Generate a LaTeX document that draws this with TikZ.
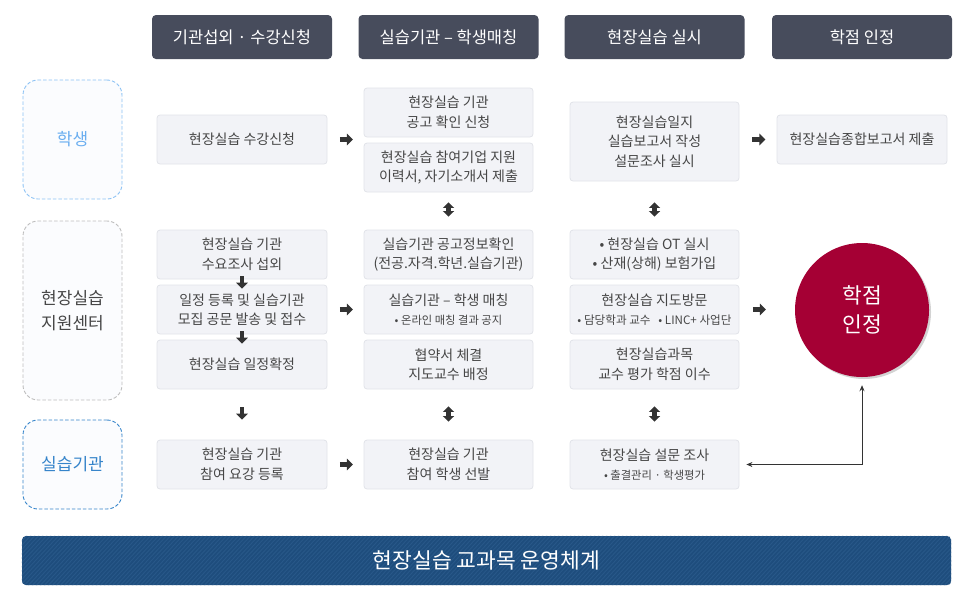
\documentclass[tikz,border=0pt]{standalone}
\usepackage{fontspec}
\setmainfont{Noto Sans CJK KR}
\usetikzlibrary{calc,arrows.meta,shadows}
\definecolor{hdr}{HTML}{474C5C}
\definecolor{boxfill}{HTML}{F2F3F7}
\definecolor{boxline}{HTML}{E1E3E9}
\definecolor{boxtext}{HTML}{464646}
\definecolor{lblblue}{HTML}{8CC2F4}
\definecolor{lbltxtblue}{HTML}{6AAEF0}
\definecolor{lbldark}{HTML}{3584CA}
\definecolor{lblgray}{HTML}{BDBDBD}
\definecolor{lblfill}{HTML}{FBFCFE}
\definecolor{crimson}{HTML}{A50034}
\definecolor{bannerc}{HTML}{1E4D7D}
\definecolor{stripec}{HTML}{285889}
\definecolor{arrowc}{HTML}{333333}
\tikzset{
  hdrbox/.style={fill=hdr, rounded corners=4pt, minimum width=180, minimum height=44, text=white, font=\fontsize{16.5}{19}\selectfont, inner sep=0},
  cbox/.style={fill=boxfill, draw=boxline, line width=0.8pt, rounded corners=3pt, minimum width=170, minimum height=49, text=boxtext, align=center, font=\fontsize{14}{19.5}\selectfont, inner sep=0},
  lbl/.style={fill=lblfill, dash pattern=on 3.5pt off 2pt, line width=0.9pt, rounded corners=15pt, minimum width=99, align=center, font=\fontsize{17}{25}\selectfont, inner sep=0},
  blockR/.style={draw=arrowc, line width=4.5pt, -{Triangle[length=6pt,width=11.5pt]}},
  blockD/.style={draw=arrowc, line width=4.5pt, {Triangle[length=5.5pt,width=11pt]}-{Triangle[length=5.5pt,width=11pt]}},
  thinarr/.style={draw=arrowc, line width=0.9pt, {Stealth[length=6pt,width=5pt]}-{Stealth[length=6pt,width=5pt]}},
}
\newcommand{\smalltxt}{\fontsize{11.3}{19.5}\selectfont}
\begin{document}
\begin{tikzpicture}[x=1pt,y=-1pt]
\useasboundingbox (0,0) rectangle (973,600);
% headers
\node[hdrbox] (h1) at (242,37) {기관섭외 · 수강신청};
\node[hdrbox] (h2) at (448.5,37) {실습기관 – 학생매칭};
\node[hdrbox] (h3) at (654.5,37) {현장실습 실시};
\node[hdrbox] (h4) at (862,37) {학점 인정};
% left labels
\node[lbl, draw=lblblue, text=lbltxtblue, minimum height=119] (l1) at (72.5,139.5) {학생};
\node[lbl, draw=lblgray, text=boxtext, minimum height=179] (l2) at (72.5,310.5) {현장실습\\지원센터};
\node[lbl, draw=lbldark, text=lbldark, minimum height=89] (l3) at (72.5,464.5) {실습기관};
% column 1
\node[cbox] (a0) at (242,139.5) {현장실습 수강신청};
\node[cbox] (a1) at (242,254.5) {현장실습 기관\\수요조사 섭외};
\node[cbox] (a2) at (242,309.5) {일정 등록 및 실습기관\\모집 공문 발송 및 접수};
\node[cbox] (a3) at (242,364.5) {현장실습 일정확정};
\node[cbox] (a4) at (242,464.5) {현장실습 기관\\참여 요강 등록};
% column 2
\node[cbox, minimum width=169] (b0) at (448.5,112.5) {현장실습 기관\\공고 확인 신청};
\node[cbox, minimum width=169] (b1) at (448.5,167.5) {현장실습 참여기업 지원\\이력서, 자기소개서 제출};
\node[cbox, minimum width=169] (b2) at (448.5,254.5) {실습기관 공고정보확인\\(전공.자격.학년.실습기관)};
\node[cbox, minimum width=169] (b3) at (448.5,309.5) {실습기관 – 학생 매칭\\{\smalltxt • 온라인 매칭 결과 공지}};
\node[cbox, minimum width=169] (b4) at (448.5,364.5) {협약서 체결\\지도교수 배정};
\node[cbox, minimum width=169] (b5) at (448.5,464.5) {현장실습 기관\\참여 학생 선발};
% column 3
\node[cbox, minimum width=169, minimum height=79] (c0) at (654.5,141.5) {현장실습일지\\실습보고서 작성\\설문조사 실시};
\node[cbox, minimum width=169] (c1) at (654.5,254.5) {• 현장실습 OT 실시\\• 산재(상해) 보험가입};
\node[cbox, minimum width=169] (c2) at (654.5,309.5) {현장실습 지도방문\\{\fontsize{11.6}{19.5}\selectfont • 담당학과 교수 \ \ • LINC+ 사업단}};
\node[cbox, minimum width=169] (c3) at (654.5,364.5) {현장실습과목\\교수 평가 학점 이수};
\node[cbox, minimum width=169] (c4) at (654.5,464.5) {현장실습 설문 조사\\{\smalltxt • 출결관리 · 학생평가}};
% column 4
\node[cbox] (d0) at (862,139.5) {현장실습종합보고서 제출};
\node[circle, fill=crimson, minimum size=134, inner sep=0, text=white, align=center, font=\fontsize{21.5}{29}\selectfont, drop shadow={shadow xshift=2pt, shadow yshift=-2pt, opacity=0.35}] (cr) at (862,310) {학점\\인정};
% banner
\node[fill=bannerc, rounded corners=4pt, minimum width=929, minimum height=49, inner sep=0] (bn) at (486.5,560.5) {};
\begin{scope}
\clip[rounded corners=4pt] (bn.north west) rectangle (bn.south east);
\foreach \i in {-60,-56,...,960} \draw[stripec, line width=0.9pt] (\i,590) -- (\i+56,530);
\end{scope}
\node[text=white, font=\fontsize{21.5}{24}\selectfont] (bt) at (bn.center) {현장실습 교과목 운영체계};
% right block arrows
\draw[blockR] ($(a0.east)+(12.5,0)$) -- ($(a0.east)+(25.5,0)$);
\draw[blockR] ($(a2.east)+(12.5,0)$) -- ($(a2.east)+(25.5,0)$);
\draw[blockR] ($(a4.east)+(12.5,0)$) -- ($(a4.east)+(25.5,0)$);
\draw[blockR] ($(c0.east)+(13,-2)$) -- ($(c0.east)+(26,-2)$);
\draw[blockR] ($(c2.east)+(13.5,0)$) -- ($(c2.east)+(26.5,0)$);
% down block arrows col1
\draw[blockR] ($(a1.south)+(0,-3)$) -- ($(a2.north)+(0,4)$);
\draw[blockR] ($(a2.south)+(0,-3)$) -- ($(a3.north)+(0,4)$);
\draw[blockR] ($(a3.south)+(0,18)$) -- ($(a4.north)+(0,-20)$);
% double arrows
\draw[blockD] ($(b1.south)+(0,10)$) -- ($(b2.north)+(0,-13)$);
\draw[blockD] ($(b4.south)+(0,17)$) -- ($(b5.north)+(0,-18)$);
\draw[blockD] ($(c0.south)+(0,21)$) -- ($(c1.north)+(0,-13)$);
\draw[blockD] ($(c3.south)+(0,17)$) -- ($(c4.north)+(0,-18)$);
% thin connector
\draw[thinarr] ($(cr.south)+(0,8)$) |- ($(c4.east)+(7,0)$);
\end{tikzpicture}
\end{document}
